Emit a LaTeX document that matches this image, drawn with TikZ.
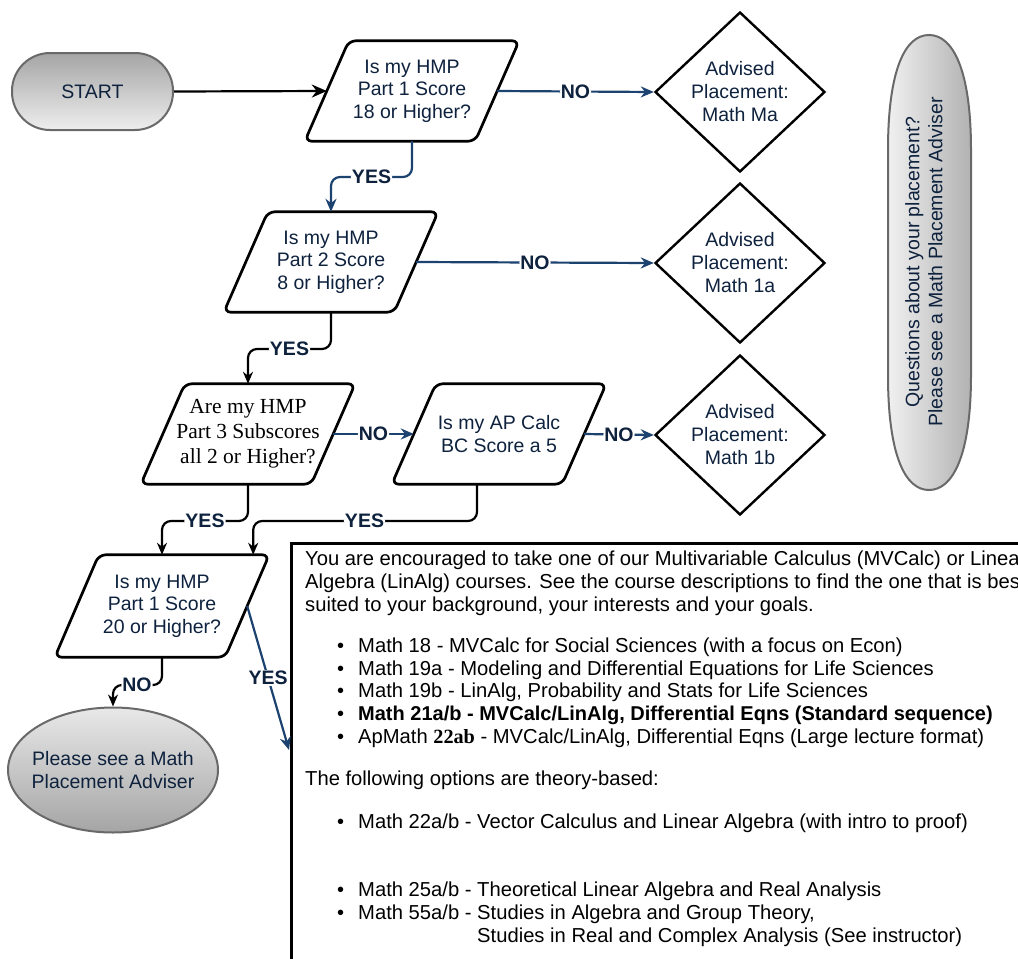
\documentclass[tikz,border=0pt]{standalone}
\usepackage{fontspec}
\setmainfont{Liberation Sans}
\newfontfamily\seriffont{Liberation Serif}
\usetikzlibrary{shapes.geometric,arrows.meta,calc}
\definecolor{navy}{RGB}{14,34,62}
\definecolor{flowblue}{RGB}{28,66,112}
\definecolor{edgegray}{RGB}{105,105,105}
\tikzset{
  qbox/.style={rectangle, minimum width=170pt, minimum height=100pt, inner sep=0pt, align=center, text=navy, font=\fontsize{19.5}{22.5}\selectfont},
  outline/.style={draw=black, line width=2.7pt, rounded corners=7pt, line join=round},
  advbox/.style={diamond, draw=black, line width=2.4pt, aspect=1.06, minimum width=170pt, minimum height=160pt, inner sep=0pt, align=center, text=navy, font=\fontsize{19.5}{23}\selectfont},
  bline/.style={draw=black, line width=2.2pt, rounded corners=9pt, -{Stealth[length=12pt,width=10pt]}},
  uline/.style={draw=flowblue, line width=2.2pt, rounded corners=9pt, -{Stealth[length=13pt,width=11pt]}},
  lbl/.style={fill=white, inner sep=1pt, text=navy, font=\bfseries\fontsize{19.5}{19.5}\selectfont},
  boxtxt/.style={anchor=base west, inner sep=0pt, font=\fontsize{20.2}{22}\selectfont, text=black},
  bul/.style={anchor=base west, inner sep=0pt, font=\fontsize{20}{22}\selectfont, text=black},
}
\newcommand\drawpara[1]{\draw[outline] ($(#1.north west)+(22,0)$) -- ($(#1.north east)+(22,0)$) -- ($(#1.south east)+(-22,0)$) -- ($(#1.south west)+(-22,0)$) -- cycle;}
\begin{document}
\begin{tikzpicture}[x=1pt,y=-1pt]
\useasboundingbox (0,0) rectangle (1018,959);
\clip (0,0) rectangle (1018,959);
\fill[white] (0,0) rectangle (1018,959);

% text box
\node[draw=black, line width=2.6pt, minimum width=760pt, minimum height=440pt, anchor=north west, inner sep=0pt] (box) at (290,542) {};

% start
\node[draw=edgegray, line width=2pt, rounded corners=38pt, minimum width=161pt, minimum height=77pt,
      top color={rgb,255:red,165;green,165;blue,165}, bottom color={rgb,255:red,238;green,238;blue,238},
      text=navy, font=\fontsize{19.5}{22.5}\selectfont] (start) at (92.5,91.5) {START};

% questions
\node[qbox] (p1) at (412,91) {Is my HMP\\Part 1 Score\\18 or Higher?};
\node[qbox] (p2) at (331,262) {Is my HMP\\Part 2 Score\\8 or Higher?};
\node[qbox, text=black, font=\seriffont\fontsize{21.5}{25}\selectfont] (p3) at (248,434) {Are my HMP\\Part 3 Subscores\\all 2 or Higher?};
\node[qbox] (p4) at (499,434) {Is my AP Calc\\BC Score a 5};
\node[qbox, minimum height=102pt] (p5) at (162,606) {Is my HMP\\Part 1 Score\\20 or Higher?};
\drawpara{p1}
\drawpara{p2}
\drawpara{p3}
\drawpara{p4}
\drawpara{p5}

% placements
\node[advbox] (d1) at (740,92) {Advised\\Placement:\\Math Ma};
\node[advbox] (d2) at (740,263) {Advised\\Placement:\\Math 1a};
\node[advbox] (d3) at (740,435) {Advised\\Placement:\\Math 1b};

% end ellipse
\node[ellipse, draw=edgegray, line width=2pt, minimum width=210pt, minimum height=125pt, inner sep=0pt,
      top color={rgb,255:red,232;green,232;blue,232}, bottom color={rgb,255:red,165;green,165;blue,165}] (end) at (113,770) {};
\node[align=center, text=navy, font=\fontsize{19.5}{23}\selectfont] (endtxt) at (end.center) {Please see a Math\\Placement Adviser};

% side pill
\draw[draw=edgegray, line width=2pt, left color={rgb,255:red,240;green,240;blue,240}, right color={rgb,255:red,178;green,178;blue,178}]
  (888,150) .. controls (888,70) and (905,35) .. (929,35) .. controls (953,35) and (971,70) .. (971,150)
  -- (971,375) .. controls (971,455) and (953,490) .. (929,490) .. controls (905,490) and (888,455) .. (888,375) -- cycle;
\node[rotate=90, align=center, text=navy, font=\fontsize{19.5}{23}\selectfont] (pill) at (924,262) {Questions about your placement?\\Please see a Math Placement Adviser};

% connectors
\coordinate (y1) at (371.5,177);
\coordinate (y2) at (289.5,349);
\coordinate (y3) at (205,521);
\coordinate (y4) at (364.5,521);
\coordinate (n5) at (137,685);
\coordinate (boxin) at (289,750);

\draw[draw=black, line width=2.2pt, -{Stealth[length=15pt,width=13pt]}] (start.east) -- (p1.west);
\draw[uline] (p1.east) -- node[lbl] (l1) {NO} (d1.west);
\draw[uline] (p1.south) |- (y1) node[lbl] (l2) {YES} -| (p2.north);
\draw[uline] (p2.east) -- node[lbl] (l3) {NO} (d2.west);
\draw[bline] (p2.south) |- (y2) node[lbl] (l4) {YES} -| (p3.north);
\draw[uline] (p3.east) -- node[lbl] (l5) {NO} (p4.west);
\draw[uline] (p4.east) -- node[lbl] (l6) {NO} (d3.west);
\draw[bline] (p3.south) |- (y3) node[lbl] (l7) {YES} -| (p5.north);
\draw[bline] ($(p4.south)+(-22,0)$) |- (y4) node[lbl] (l8) {YES} -| ($(p5.north east)+(6,0)$);
\draw[bline] (p5.south) |- (n5) node[lbl] (l9) {NO} -| (end.north);
\draw[uline] (p5.east) -- node[lbl] (l10) {YES} (boxin);

% box text
\node[boxtxt] (t1) at (305,565) {You are encouraged to take one of our Multivariable Calculus (MVCalc) or Linear};
\node[boxtxt] (t2) at (305,588) {Algebra (LinAlg) courses. See the course descriptions to find the one that is best};
\node[boxtxt] (t3) at (305,611) {suited to your background, your interests and your goals.};
\foreach \yy/\nm in {652/a,675/b,697/c,720/d,743/e,828/f,896/g,919/h}{
  \node[bul] (bu\nm) at (337,\yy) {•};
}
\node[boxtxt] (b1) at (358,652) {Math 18 - MVCalc for Social Sciences (with a focus on Econ)};
\node[boxtxt] (b2) at (358,675) {Math 19a - Modeling and Differential Equations for Life Sciences};
\node[boxtxt] (b3) at (358,697) {Math 19b - LinAlg, Probability and Stats for Life Sciences};
\node[boxtxt, font=\bfseries\fontsize{20}{22}\selectfont] (b4) at (358,720) {Math 21a/b - MVCalc/LinAlg, Differential Eqns (Standard sequence)};
\node[boxtxt] (b5) at (358,743) {ApMath {\seriffont\bfseries 22ab} - MVCalc/LinAlg, Differential Eqns (Large lecture format)};
\node[boxtxt] (t4) at (305,785) {The following options are theory-based:};
\node[boxtxt] (b6) at (358,828) {Math 22a/b - Vector Calculus and Linear Algebra (with intro to proof)};
\node[boxtxt] (b7) at (358,896) {Math 25a/b - Theoretical Linear Algebra and Real Analysis};
\node[boxtxt] (b8) at (358,919) {Math 55a/b - Studies in Algebra and Group Theory,};
\node[boxtxt] (b9) at (358,942) {\phantom{Math 55a/b - }Studies in Real and Complex Analysis (See instructor)};
\end{tikzpicture}
\end{document}
